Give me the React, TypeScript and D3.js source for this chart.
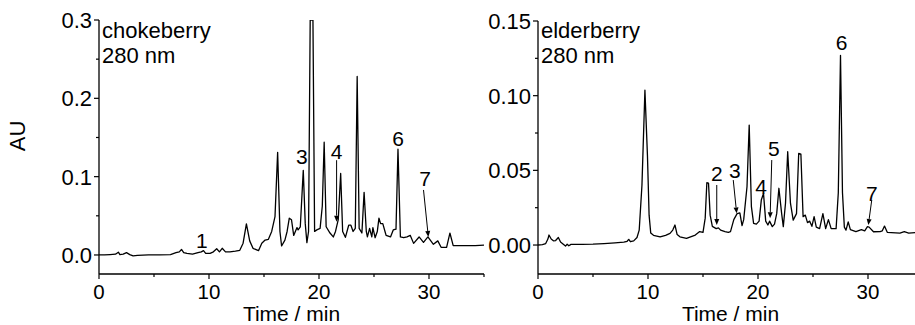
import React from "react";
import * as d3 from "d3";

// ---------- DATA ----------
const chokeTime = [0,0.5,1.0,1.5,1.76,1.9,2.2,2.5,2.8,3.1,3.5,4.5,5.5,6.5,7.0,7.3,7.5,7.7,8.0,8.5,9.0,9.3,9.5,9.7,10.1,10.4,10.7,10.95,11.2,11.5,11.9,12.4,12.8,13.1,13.4,13.7,14.0,14.5,14.8,15.1,15.4,15.7,16.0,16.24,16.45,16.6,16.9,17.1,17.3,17.5,17.7,18.0,18.1,18.3,18.57,18.75,18.9,19.05,19.2,19.45,19.6,19.8,20.1,20.3,20.47,20.65,21.0,21.3,21.5,21.75,21.97,22.15,22.4,22.7,22.9,23.1,23.3,23.47,23.65,23.9,24.1,24.3,24.4,24.6,24.8,24.9,25.1,25.3,25.45,25.6,25.8,26.0,26.1,26.5,26.75,27.0,27.18,27.4,27.7,28.0,28.3,28.6,29.1,29.5,29.9,30.4,30.8,31.1,31.6,31.9,32.2,32.7,33.5,34.2,35.0];
const chokeAU = [0,0,0.0005,0.001,0.0035,0.0005,0.001,0.003,0.0005,-0.0012,-0.0005,0,0,0.0005,0.003,0.004,0.007,0.003,0.002,0.001,0.003,0.004,0.0055,0.002,0.002,0.004,0.008,0.004,0.0085,0.004,0.004,0.005,0.006,0.015,0.0396,0.018,0.0085,0.0055,0.015,0.019,0.02,0.03,0.049,0.131,0.03,0.0115,0.019,0.03,0.047,0.045,0.025,0.035,0.032,0.036,0.108,0.04,0.0157,0.03,0.3,0.3,0.03,0.032,0.034,0.0625,0.144,0.036,0.028,0.023,0.03,0.045,0.104,0.03,0.0225,0.038,0.038,0.03,0.034,0.228,0.034,0.028,0.08,0.03,0.023,0.034,0.023,0.035,0.022,0.03,0.047,0.04,0.04,0.03,0.025,0.023,0.032,0.033,0.135,0.023,0.022,0.023,0.025,0.0148,0.023,0.016,0.023,0.0136,0.018,0.0098,0.0098,0.028,0.012,0.012,0.012,0.012,0.0125];

const elderTime = [0,0.4,0.7,0.9,1.0,1.2,1.4,1.6,1.85,2.05,2.3,2.5,2.65,2.8,3.0,4.0,5.0,6.0,7.0,7.8,8.1,8.25,8.4,8.7,9.0,9.2,9.45,9.72,9.95,10.1,10.25,10.5,11.1,11.6,12.0,12.25,12.45,12.65,12.9,13.5,14.3,14.7,15.0,15.2,15.35,15.5,15.65,15.85,16.2,16.4,16.6,17.0,17.3,17.5,17.8,18.1,18.35,18.55,18.7,19.0,19.2,19.4,19.6,19.85,20.1,20.3,20.5,20.7,20.9,21.05,21.3,21.5,21.7,21.9,22.15,22.3,22.5,22.7,22.95,23.2,23.5,23.7,23.9,24.1,24.3,24.5,24.7,24.9,25.1,25.3,25.6,25.9,26.15,26.4,26.65,27.1,27.3,27.5,27.68,27.85,28.0,28.2,28.4,28.9,29.4,29.7,29.95,30.1,30.5,31.1,31.3,31.5,31.75,32.9,33.3,33.7,34.3,35.0];
const elderAU = [0,0.0003,0.001,0.004,0.0067,0.004,0.0028,0.003,0.005,0.002,0.0005,-0.0007,0.0005,-0.0005,0.0004,0.0004,0.0006,0.001,0.0015,0.002,0.0025,0.0038,0.0022,0.0028,0.005,0.01,0.04,0.1037,0.06,0.02,0.008,0.0065,0.0055,0.0065,0.0078,0.01,0.0134,0.007,0.0055,0.0045,0.0067,0.009,0.0085,0.018,0.0417,0.0415,0.02,0.0125,0.011,0.0115,0.01,0.009,0.0085,0.009,0.017,0.021,0.0215,0.013,0.017,0.039,0.0803,0.0257,0.0145,0.014,0.016,0.0301,0.0346,0.016,0.0134,0.016,0.0123,0.014,0.021,0.038,0.021,0.0123,0.028,0.0625,0.028,0.0167,0.021,0.0613,0.0608,0.019,0.02,0.015,0.016,0.0125,0.019,0.012,0.011,0.021,0.011,0.017,0.011,0.011,0.035,0.127,0.035,0.012,0.01,0.0155,0.0103,0.009,0.0103,0.0095,0.0123,0.012,0.0089,0.009,0.0095,0.0127,0.0085,0.008,0.009,0.008,0.0083,0.0083];

const xTicksMajor = [0, 10, 20, 30];
const xTicksMinor = [5, 15, 25, 35];
const chokeYTicks = [0.0, 0.1, 0.2, 0.3];
const chokeYMinor = [0.05, 0.15, 0.25];
const elderYTicks = [0.0, 0.05, 0.1, 0.15];
const elderYMinor = [0.025, 0.075, 0.125];

// peak labels: [text, t, AU]
const chokeLabels: [string, number, number][] = [["1", 9.34, 0.019], ["3", 18.43, 0.1255], ["4", 21.6, 0.132], ["6", 27.2, 0.149], ["7", 29.64, 0.098]];
const chokeArrows: [number, number, number, number][] = [[21.6, 0.121, 21.6, 0.0425], [29.5, 0.083, 29.94, 0.023]];
const elderLabels: [string, number, number][] = [["2", 16.25, 0.048], ["3", 17.9, 0.0497], ["4", 20.27, 0.039], ["5", 21.45, 0.0647], ["6", 27.6, 0.1354], ["7", 30.34, 0.0346]];
const elderArrows: [number, number, number, number][] = [[16.25, 0.0402, 16.25, 0.0134], [17.75, 0.0435, 18.06, 0.0212], [21.25, 0.0569, 21.1, 0.0179], [30.34, 0.0301, 30.03, 0.0134]];

const FONT = "'Liberation Sans', Arial, sans-serif";
const FS = 22;

type PanelProps = {
  id: string;
  x0: number; x1: number; yTop: number; yBottom: number;
  yMax: number; yMin: number;
  times: number[]; values: number[];
  yTicks: number[]; yMinor: number[]; fmt: string;
  title: string;
  labels: [string, number, number][];
  arrows: [number, number, number, number][];
  clipRight: number;
};

function Panel(p: PanelProps) {
  const x = d3.scaleLinear().domain([0, 35]).range([p.x0, p.x1]);
  const y = d3.scaleLinear().domain([p.yMin, p.yMax]).range([p.yBottom, p.yTop]);
  const pts = p.times.map((t, i) => [t, p.values[i]] as [number, number]);
  const line = d3.line<[number, number]>().x(d => x(d[0])).y(d => y(d[1]));
  const f = d3.format(p.fmt);
  const axY = p.yBottom;
  return (
    <g>
      <defs>
        <clipPath id={p.id}>
          <rect x={p.x0} y={y(p.yMax)} width={p.clipRight - p.x0} height={p.yBottom - y(p.yMax)} />
        </clipPath>
      </defs>
      <path d={line(pts) || ""} fill="none" stroke="#000" strokeWidth={1.3} strokeLinejoin="round" clipPath={`url(#${p.id})`} />
      <line x1={x(0)} x2={x(0)} y1={y(p.yMax)} y2={axY} stroke="#000" strokeWidth={1.3} />
      <line x1={x(0)} x2={x(35)} y1={axY} y2={axY} stroke="#000" strokeWidth={1.3} />
      {p.yTicks.map(v => (
        <g key={"yt" + v}>
          <line x1={x(0) - 5} x2={x(0)} y1={y(v)} y2={y(v)} stroke="#000" strokeWidth={1.2} />
          <text x={x(0) - 7} y={y(v)} dy="0.36em" textAnchor="end" fontSize={FS} fontFamily={FONT}>{f(v)}</text>
        </g>
      ))}
      {p.yMinor.map(v => (
        <line key={"ym" + v} x1={x(0) - 3} x2={x(0)} y1={y(v)} y2={y(v)} stroke="#000" strokeWidth={1.2} />
      ))}
      {xTicksMajor.map(v => (
        <g key={"xt" + v}>
          <line x1={x(v)} x2={x(v)} y1={axY} y2={axY + 5} stroke="#000" strokeWidth={1.2} />
          <text x={x(v)} y={axY + 25} textAnchor="middle" fontSize={20.5} fontFamily={FONT}>{v}</text>
        </g>
      ))}
      {xTicksMinor.map(v => (
        <line key={"xm" + v} x1={x(v)} x2={x(v)} y1={axY} y2={axY + 3} stroke="#000" strokeWidth={1.2} />
      ))}
      <text x={(x(0) + x(35)) / 2} y={axY + 47} textAnchor="middle" fontSize={21} fontFamily={FONT}>Time / min</text>
      <text x={x(0) + 3} y={38} fontSize={FS} fontFamily={FONT}>{p.title}</text>
      <text x={x(0) + 3} y={63} fontSize={FS} fontFamily={FONT}>280 nm</text>
      {p.labels.map(([s, t, v]) => (
        <text key={"l" + s} x={x(t)} y={y(v)} dy="0.36em" textAnchor="middle" fontSize={21} fontFamily={FONT}>{s}</text>
      ))}
      {p.arrows.map(([t1, v1, t2, v2], i) => {
        const X1 = x(t1), Y1 = y(v1), X2 = x(t2), Y2 = y(v2);
        const ang = Math.atan2(Y2 - Y1, X2 - X1);
        const L = 6, W = 2.5;
        const bx = X2 - L * Math.cos(ang), by = Y2 - L * Math.sin(ang);
        const px = -Math.sin(ang) * W, py = Math.cos(ang) * W;
        return (
          <g key={"a" + i}>
            <line x1={X1} y1={Y1} x2={bx} y2={by} stroke="#000" strokeWidth={1} />
            <path d={`M${X2},${Y2}L${bx + px},${by + py}L${bx - px},${by - py}Z`} fill="#000" />
          </g>
        );
      })}
    </g>
  );
}

export default function App() {
  return (
    <svg width={915} height={325} style={{ position: "absolute", left: 0, top: 0, background: "#fff" }}>
      <rect width={915} height={325} fill="#fff" />
      <Panel id="clipChoke" x0={99} x1={484} yTop={20} yBottom={274} yMax={0.3} yMin={-0.0243}
        times={chokeTime} values={chokeAU} yTicks={chokeYTicks} yMinor={chokeYMinor} fmt=".1f"
        title="chokeberry" labels={chokeLabels} arrows={chokeArrows} clipRight={484} />
      <Panel id="clipElder" x0={538} x1={923} yTop={21} yBottom={274} yMax={0.15} yMin={-0.0194}
        times={elderTime} values={elderAU} yTicks={elderYTicks} yMinor={elderYMinor} fmt=".2f"
        title="elderberry" labels={elderLabels} arrows={elderArrows} clipRight={923} />
      <text transform="translate(25,136) rotate(-90)" textAnchor="middle" fontSize={FS} fontFamily={FONT}>AU</text>
    </svg>
  );
}
